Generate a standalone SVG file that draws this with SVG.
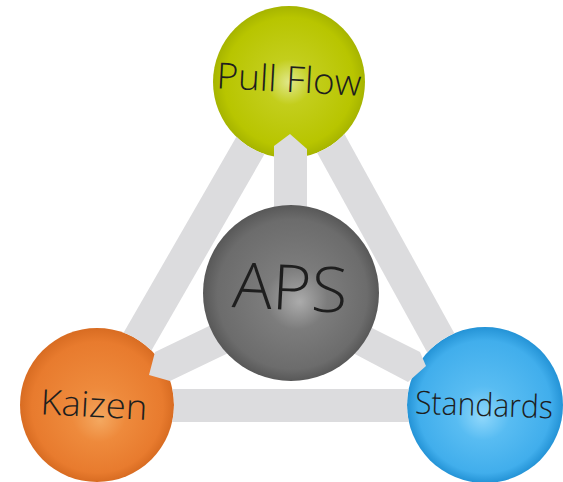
<svg xmlns="http://www.w3.org/2000/svg" width="563" height="482" viewBox="0 0 563 482">
<style>
.bar{stroke:#dcdcde;stroke-width:33;stroke-linecap:butt;fill:none}
.arrow{fill:#dcdcde}
.lbl{font-family:"Open Sans","Noto Sans","DejaVu Sans",sans-serif;font-weight:300;fill:#1e1e1e;text-anchor:middle}
</style>
<defs>
<radialGradient id="gPull" cx="0.5" cy="0.5" r="0.5" fx="0.5" fy="0.5">
<stop offset="0" stop-color="#e0e88a"/>
<stop offset="0.3" stop-color="#c3ce1c"/>
<stop offset="0.85" stop-color="#b8c500"/>
<stop offset="1" stop-color="#a6b400"/>
</radialGradient>
<radialGradient id="gKai" cx="0.5" cy="0.5" r="0.5" fx="0.52" fy="0.6">
<stop offset="0" stop-color="#f4a860"/>
<stop offset="0.35" stop-color="#ee8a3c"/>
<stop offset="0.85" stop-color="#e87b2e"/>
<stop offset="1" stop-color="#d86c22"/>
</radialGradient>
<radialGradient id="gStd" cx="0.5" cy="0.5" r="0.5" fx="0.48" fy="0.58">
<stop offset="0" stop-color="#8fd7fb"/>
<stop offset="0.35" stop-color="#58bcf2"/>
<stop offset="0.85" stop-color="#41aeec"/>
<stop offset="1" stop-color="#2493d6"/>
</radialGradient>
<radialGradient id="gAps" cx="0.5" cy="0.5" r="0.5" fx="0.55" fy="0.55">
<stop offset="0" stop-color="#ababab"/>
<stop offset="0.35" stop-color="#7c7c7c"/>
<stop offset="0.85" stop-color="#6c6c6c"/>
<stop offset="1" stop-color="#585858"/>
</radialGradient>
<mask id="outerMask" maskUnits="userSpaceOnUse" x="0" y="0" width="563" height="482">
<rect x="0" y="0" width="563" height="482" fill="#fff"/>
<circle cx="289" cy="82" r="76" fill="#000"/>
<circle cx="97" cy="405" r="77" fill="#000"/>
<circle cx="485" cy="405" r="78" fill="#000"/>
</mask>
</defs>
<rect width="563" height="482" fill="#ffffff"/>

<g id="node-pullflow">
<circle cx="289" cy="82" r="76" fill="url(#gPull)"/>
<text class="lbl" x="289" y="92" font-size="36" textLength="145" lengthAdjust="spacingAndGlyphs" transform="rotate(3 289 80)">Pull Flow</text>
</g>
<g id="node-kaizen">
<circle cx="97" cy="405" r="77" fill="url(#gKai)"/>
<text class="lbl" x="94" y="417" font-size="35" textLength="107" lengthAdjust="spacingAndGlyphs" transform="rotate(3 94 405)">Kaizen</text>
</g>
<g id="node-standards">
<circle cx="485" cy="405" r="78" fill="url(#gStd)"/>
<text class="lbl" x="484" y="416" font-size="32" textLength="138" lengthAdjust="spacingAndGlyphs" transform="rotate(2 484 405)">Standards</text>
</g>

<g id="connectors">
<g mask="url(#outerMask)">
<line class="bar" x1="287" y1="82" x2="101" y2="405"/>
<line class="bar" x1="297" y1="82" x2="475" y2="405"/>
<line class="bar" x1="97" y1="405.5" x2="485" y2="405.5"/>
</g>
<polygon class="arrow" points="274,300 274,146 290,134 307,149 307,300"/>
<polygon class="arrow" points="280,292 207,327 155,352 149,375 170,381 220,357 290,324"/>
<polygon class="arrow" points="300,292 370,327 420,352 426,366 408,382 370,362 300,325"/>
</g>

<g id="node-aps">
<circle cx="291" cy="293" r="88" fill="url(#gAps)"/>
<text class="lbl" x="290" y="310" font-size="63" textLength="115" lengthAdjust="spacingAndGlyphs" transform="rotate(3 290 290)">APS</text>
</g>
</svg>
